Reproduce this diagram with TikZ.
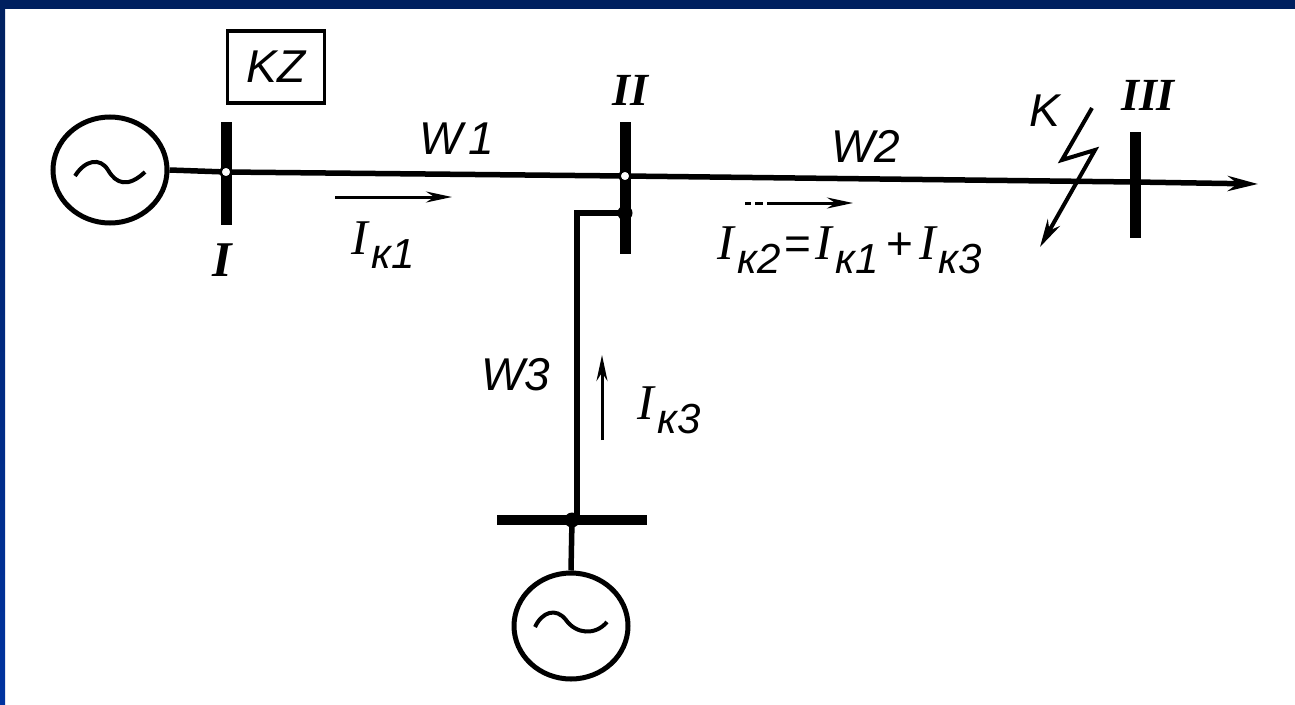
\documentclass[tikz,border=0pt]{standalone}
\usepackage{fontspec}
\setmainfont{Liberation Sans}
\newfontfamily\serifit{Liberation Serif}
\usetikzlibrary{arrows.meta,shapes.geometric}
\definecolor{navy}{HTML}{00205F}
\definecolor{brightblue}{HTML}{0033A0}
\newcommand\lbl{\itshape\fontsize{46}{46}\selectfont}
\newcommand\Ik[1]{{\serifit\itshape\fontsize{50}{50}\selectfont I}\kern3pt\raisebox{-0.3em}{\fontsize{42}{42}\selectfont к#1}}
\begin{document}
\begin{tikzpicture}[x=1pt,y=-1pt,
  wire/.style={line width=5.5pt},
  busbar/.style={line width=11pt},
  gen/.style={ellipse,draw,line width=5pt,minimum width=114pt,minimum height=106pt,inner sep=0pt},
  txt/.style={font=\lbl,inner sep=0pt},
  numeral/.style={font=\serifit\bfseries\itshape\fontsize{46}{46}\selectfont,inner sep=0pt},
  arr/.style={line width=3pt,-{Stealth[length=26pt,width=11pt]}},
  opendot/.style={circle,draw,fill=white,line width=2.5pt,minimum size=11pt,inner sep=0pt},
  fulldot/.style={circle,fill=black,minimum size=15pt,inner sep=0pt}]
\useasboundingbox (0,0) rectangle (1295,704);
\fill[white] (0,0) rectangle (1295,704);
\shade[top color=navy,bottom color=brightblue] (0,0) rectangle (5,704);
\fill[navy] (0,0) rectangle (1295,9);

% generators
\node[gen] (G1) at (110,170) {};
\node[gen] (G2) at (571,626) {};
\draw[line width=4pt] (75,176) .. controls (85,160) and (100,157) .. (108,170)
   .. controls (116,184) and (128,188) .. (145,172);
\draw[line width=4pt] (535,627) .. controls (542,612) and (556,607) .. (566,620)
   .. controls (576,634) and (595,636) .. (607,622);

% buses
\coordinate (B1t) at (226,122); \coordinate (B1b) at (226,225);
\coordinate (B2t) at (625,122); \coordinate (B2b) at (625,254);
\coordinate (B3t) at (1135,132); \coordinate (B3b) at (1135,238);
\coordinate (B4l) at (497,520); \coordinate (B4r) at (647,520);
\draw[busbar] (B1t) -- (B1b);
\draw[busbar] (B2t) -- (B2b);
\draw[busbar] (B3t) -- (B3b);
\draw[line width=10pt] (B4l) -- (B4r);

% junctions
\coordinate (J1) at (226,172);
\coordinate (J2) at (625,176);
\coordinate (J2b) at (625,213);
\coordinate (J3) at (1135,182);
\coordinate (J4) at (572,520);
\coordinate (Corner) at (577,213);
\coordinate (End) at (1258,184);

% lines
\draw[wire] (G1.east) -- (J1) -- (J2) -- (J3);
\draw[wire,-{Stealth[length=30pt,width=15pt]}] (J3) -- (End);
\draw[wire] (J2b) -- (Corner) -- (577,520);
\draw[wire] (J4) -- (G2.north);

\node[opendot] at (J1) {};
\node[opendot] at (J2) {};
\node[fulldot] at (J2b) {};
\node[fulldot] at (J4) {};

% KZ box
\node[draw,line width=3.5pt,minimum width=97pt,minimum height=72pt,font=\lbl,inner sep=0pt] (KZ) at (276,67) {KZ};

% labels
\node[numeral,font=\serifit\bfseries\itshape\fontsize{50}{50}\selectfont] (LI) at (222,260) {I};
\node[numeral] (LII) at (630,90) {II};
\node[numeral,font=\serifit\bfseries\itshape\fontsize{46}{46}\selectfont] (LIII) at (1148,95) {III};
\node[txt] (W1) at (457,139) {W\kern6pt1};
\node[txt] (W2) at (866,146) {W2};
\node[txt] (W3) at (516,375) {W3};
\node[txt] (K) at (1045,111) {K};
\node[txt] (Ik1) at (383,245) {\Ik1};
\node[txt] (Ik3) at (669,410) {\Ik3};
\node[txt] (Ik2) at (850,250) {\Ik2{\upshape\kern4pt=\kern4pt}\Ik1{\upshape\kern8pt+\kern6pt}\Ik3};

% current arrows
\coordinate (a1s) at (335,197); \coordinate (a1e) at (452,197);
\draw[arr] (a1s) -- (a1e);
\coordinate (a3s) at (602,440); \coordinate (a3e) at (602,355);
\draw[arr] (a3s) -- (a3e);
\coordinate (a2s) at (745,203); \coordinate (a2e) at (853,203);
\draw[arr,dash pattern=on 6pt off 4pt on 8pt off 4pt on 200pt] (a2s) -- (a2e);

% fault lightning
\coordinate (f1) at (1092,108);
\coordinate (f2) at (1062,160);
\coordinate (f3) at (1095,150);
\coordinate (f4) at (1040,247);
\draw[line width=4pt,line join=miter,-{Stealth[length=28pt,width=14pt]}] (f1) -- (f2) -- (f3) -- (f4);
\end{tikzpicture}
\end{document}
